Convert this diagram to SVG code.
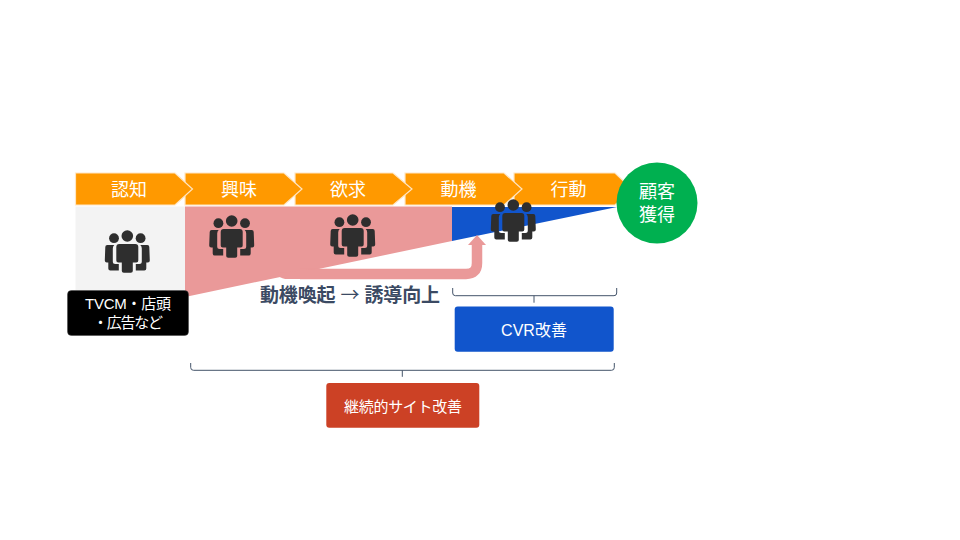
<svg xmlns="http://www.w3.org/2000/svg" width="960" height="540" viewBox="0 0 960 540">
<style>
text{font-family:"Liberation Sans","Noto Sans CJK JP",sans-serif;text-anchor:middle;fill:#fff}
.step{fill:#ff9900;stroke:#ffe6c4;stroke-width:1.200}
.st{font-size:18px}
.br{fill:none;stroke:#44546a;stroke-width:1}
.box{font-size:15px}
</style>
<defs>
<symbol id="people" overflow="visible" viewBox="0 0 1 1" width="1" height="1">
<g fill="#2e2e2e">
<circle cx="0" cy="0" r="5.800"/>
<circle cx="-13.300" cy="2.200" r="4.900"/>
<circle cx="13.300" cy="2.200" r="4.900"/>
<path d="M-22 11q0-2 2-2h7q-1.500 1-1.500 3.500v13q0 2.500 2.500 2.500h3.500v6.500h-8.500q-2 0-2-2v-6h-1.500q-2 0-2-2z"/>
<path d="M22 11q0-2-2-2h-7q1.500 1 1.500 3.500v13q0 2.500-2.500 2.500h-3.500v6.500h8.500q2 0 2-2v-6h1.500q2 0 2-2z"/>
<path d="M-8 8h16q3 0 3 3v13.500q0 2-2 2h-3.500v8.500q0 1.700-2 1.700h-7q-2 0-2-1.700v-8.500h-3.500q-2 0-2-2v-13.500q0-3 3-3z"/>
</g>
</symbol>
</defs>
<rect width="960" height="540" fill="#fff"/>
<g id="funnel">
<rect x="75.500" y="206.500" width="109.500" height="84" fill="#f3f3f3"/>
<polygon points="185,206.500 452,206.500 452,241 185,297" fill="#ea9999"/>
<polygon points="452,207 617,207 452,241" fill="#1155cc"/>
</g>
<g id="connectors">
<path d="M300 273.900H466q11 0 11-11V243" fill="none" stroke="#ea9999" stroke-width="10.500"/>
<path d="M278 273L320 268.600V279.100H288Q282 279.100 278 276z" fill="#ea9999"/>
<polygon points="477,235 486,245 468,245" fill="#ea9999"/>
<path class="br" d="M452.700 288v5q0 2.700 2.700 2.700H614q2.700 0 2.700-2.700v-5M534 295.700v7"/>
<path class="br" d="M190.700 363v4.500q0 2.800 2.800 2.800H611.500q2.800 0 2.800-2.800V363M402.300 370.300v6.500"/>
</g>
<g id="step5"><polygon class="step" points="514,173 615,173 632,189 615,205 514,205"/><text class="st" x="568.500" y="195.500">行動</text></g>
<g id="step4"><polygon class="step" points="405,173 504,173 522,189 504,205 405,205"/><text class="st" x="458.500" y="195.500">動機</text></g>
<g id="step3"><polygon class="step" points="295,173 393,173 412,189 393,205 295,205"/><text class="st" x="348" y="195.500">欲求</text></g>
<g id="step2"><polygon class="step" points="185,173 284,173 302,189 284,205 185,205"/><text class="st" x="239" y="195.500">興味</text></g>
<g id="step1"><polygon class="step" points="75.500,173 175,173 192.500,189 175,205 75.500,205"/><text class="st" x="129" y="195.500">認知</text></g>
<g id="goal"><circle cx="657" cy="203" r="40.500" fill="#00b050"/><text class="st" x="657" y="198">顧客</text><text class="st" x="657" y="221">獲得</text></g>
<g id="icon1"><use href="#people" x="127.300" y="236"/></g>
<g id="icon2"><use href="#people" x="231.700" y="221"/></g>
<g id="icon3"><use href="#people" x="352.700" y="220"/></g>
<g id="icon4"><use href="#people" x="513.300" y="205"/></g>
<g id="channels"><rect x="67.500" y="290.500" width="121" height="45" rx="4" fill="#000" stroke="#444" stroke-width="0.500"/><text class="box" x="128" y="309" textLength="86" lengthAdjust="spacing">TVCM・店頭</text><text class="box" x="128" y="328" textLength="70" lengthAdjust="spacing">・広告など</text></g>
<text x="350" y="302" font-size="19" font-weight="700" style="fill:#3b4a63" textLength="180" lengthAdjust="spacing">動機喚起 <tspan font-weight="400" style="font-family:'Noto Sans CJK JP',sans-serif">→</tspan> 誘導向上</text>
<g id="cvr"><rect x="454.700" y="306.500" width="159" height="45.200" rx="3" fill="#1155cc"/><text class="box" x="534" y="335.500" style="font-size:16px">CVR改善</text></g>
<g id="site"><rect x="326.300" y="383" width="153" height="44.700" rx="3" fill="#cc4125"/><text class="box" x="403" y="411.500" textLength="118" lengthAdjust="spacing">継続的サイト改善</text></g>
</svg>
